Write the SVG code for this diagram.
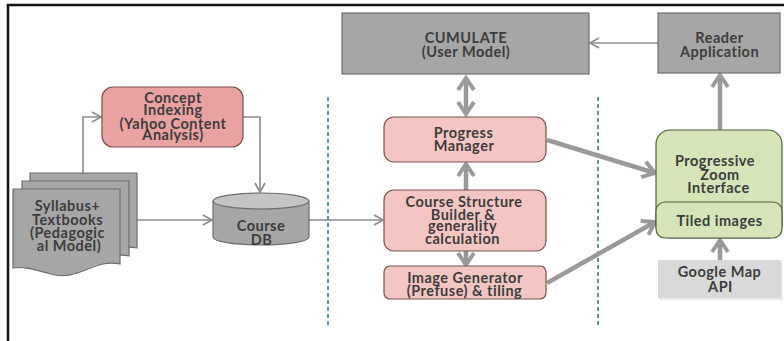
<svg xmlns="http://www.w3.org/2000/svg" width="784" height="341" viewBox="0 0 784 341">
<defs>
<style>
text{font-family:Lato,"Open Sans","Liberation Sans",sans-serif;font-size:14.5px;font-weight:700;fill:#3d3d3d;text-anchor:middle;letter-spacing:0.5px}
.gray{fill:#a6a6a6;stroke:#6e6e6e;stroke-width:1.2}
.pinkd{fill:#e8a3a1;stroke:#7a4f4f;stroke-width:1.2}
.pink{fill:#f4c6c3;stroke:#7a4f4f;stroke-width:1.2}
.green{fill:#d5e5b7;stroke:#4f5f3c;stroke-width:1.2}
.thin{stroke:#8c8c8c;stroke-width:1.6;fill:none}
.thick{stroke:#9a9a9a;stroke-width:4.5;fill:none}
.dash{stroke:#5b8fbf;stroke-width:2;stroke-dasharray:4 3;fill:none}
</style>
<marker id="ah" markerWidth="12" markerHeight="12" refX="10" refY="6" orient="auto" markerUnits="userSpaceOnUse"><path d="M1,1 L10,6 L1,11" fill="none" stroke="#8c8c8c" stroke-width="1.6"/></marker>
<marker id="ahT" markerWidth="20" markerHeight="20" refX="15" refY="10" orient="auto" markerUnits="userSpaceOnUse"><path d="M3,2 L15,10 L3,18" fill="none" stroke="#9a9a9a" stroke-width="4"/></marker>
<marker id="ahTs" markerWidth="20" markerHeight="20" refX="15" refY="10" orient="auto-start-reverse" markerUnits="userSpaceOnUse"><path d="M3,2 L15,10 L3,18" fill="none" stroke="#9a9a9a" stroke-width="4"/></marker>
</defs>
<rect width="784" height="341" fill="#fff"/>
<path d="M8,345 L8,5 L790,5" fill="none" stroke="#111" stroke-width="2.5"/>

<g id="separators">
<line class="dash" x1="328" y1="97" x2="328" y2="326"/>
<line class="dash" x1="598" y1="97" x2="598" y2="326"/>
</g>

<g id="connectors">
<line class="thin" x1="658" y1="43" x2="590" y2="43" marker-end="url(#ah)"/>
<line class="thick" x1="466" y1="78" x2="466" y2="114" marker-start="url(#ahTs)" marker-end="url(#ahT)"/>
<line class="thick" x1="466" y1="190" x2="466" y2="164" marker-end="url(#ahT)"/>
<line class="thick" x1="466" y1="251" x2="466" y2="265" marker-end="url(#ahT)"/>
<line class="thick" x1="547" y1="140" x2="655" y2="173" marker-end="url(#ahT)"/>
<line class="thick" x1="547" y1="283" x2="655" y2="222" marker-end="url(#ahT)"/>
<line class="thick" x1="720" y1="130" x2="720" y2="75" marker-end="url(#ahT)"/>
<line class="thick" x1="720" y1="260" x2="720" y2="240" marker-end="url(#ahT)"/>
<polyline class="thin" points="83,173 83,117 101,117" marker-end="url(#ah)"/>
<polyline class="thin" points="243,117 260,117 260,192" marker-end="url(#ah)"/>
<line class="thin" x1="137" y1="220" x2="212" y2="220" marker-end="url(#ah)"/>
<line class="thin" x1="309" y1="220" x2="383" y2="220" marker-end="url(#ah)"/>
</g>

<g id="cumulate">
<rect class="gray" x="342" y="13" width="247" height="61"/>
<text x="466" y="43">CUMULATE</text>
<text x="466" y="57">(User Model)</text>
</g>

<g id="reader">
<rect class="gray" x="658" y="13" width="122" height="60"/>
<text x="719.5" y="43">Reader</text>
<text x="719.5" y="57">Application</text>
</g>

<g id="concept-indexing">
<rect class="pinkd" x="102" y="87" width="141" height="60" rx="11"/>
<text x="173" y="103">Concept</text>
<text x="173" y="115">Indexing</text>
<text x="173" y="129">(Yahoo Content</text>
<text x="173" y="140">Analysis)</text>
</g>

<g id="syllabus">
<path class="gray" d="M30,173 H137 V248 C112,242 95,266 68,258 C52,254 42,250 30,252 Z"/>
<path class="gray" d="M22,181 H129 V256 C104,250 87,274 60,266 C44,262 34,258 22,260 Z"/>
<path class="gray" d="M13,189 H120 V264 C95,258 78,282 51,274 C35,270 25,266 13,268 Z"/>
<text x="67.5" y="211">Syllabus+</text>
<text x="67.5" y="225">Textbooks</text>
<text x="67.5" y="238">(Pedagogic</text>
<text x="69" y="251">al Model)</text>
</g>

<g id="course-db">
<path class="gray" d="M213,201 V237 A48,8 0 0 0 309,237 V201"/>
<ellipse class="gray" cx="261" cy="201" rx="48" ry="8" style="fill:#c4c4c4"/>
<text x="261" y="231">Course</text>
<text x="261.5" y="245">DB</text>
</g>

<g id="progress-manager">
<rect class="pink" x="384" y="117" width="162" height="45" rx="10"/>
<text x="463.5" y="138">Progress</text>
<text x="464" y="151">Manager</text>
</g>

<g id="course-structure-builder">
<rect class="pink" x="384" y="190" width="162" height="61" rx="10"/>
<text x="464" y="207">Course Structure</text>
<text x="463" y="220">Builder &amp;</text>
<text x="462.5" y="231">generality</text>
<text x="462.5" y="244">calculation</text>
</g>

<g id="image-generator">
<rect class="pink" x="384" y="266" width="162" height="33" rx="6"/>
<text x="465" y="283">Image Generator</text>
<text x="464.5" y="296">(Prefuse) &amp; tiling</text>
</g>

<g id="progressive-zoom">
<rect class="green" x="656" y="130" width="126" height="108" rx="14"/>
<rect class="green" x="656" y="202" width="126" height="36" rx="9"/>
<text x="715" y="166">Progressive</text>
<text x="720" y="180">Zoom</text>
<text x="718.5" y="193">Interface</text>
<text x="719.5" y="226">Tiled images</text>
</g>

<g id="google-map">
<rect x="660" y="262" width="123" height="38" fill="#ececec"/>
<rect x="658" y="260" width="123" height="38" fill="#d9d9d9"/>
<text x="719.5" y="277">Google Map</text>
<text x="720.5" y="292">API</text>
</g>
</svg>
